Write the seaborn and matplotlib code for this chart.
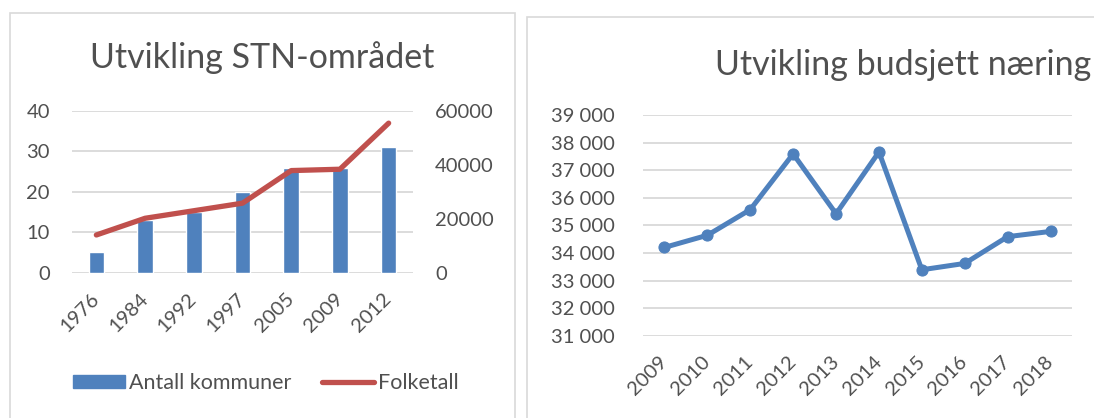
import numpy as np
import matplotlib
matplotlib.use('Agg')
import matplotlib.pyplot as plt
import seaborn as sns
from matplotlib.patches import Patch, Rectangle
from matplotlib.lines import Line2D

# left chart data
years_stn = ['1976', '1984', '1992', '1997', '2005', '2009', '2012']
antall_kommuner = [5, 13, 15, 20, 26, 26, 31]
folketall = [14000, 20200, 23000, 25800, 37900, 38400, 55500]

# right chart data
years_budsjett = [2009, 2010, 2011, 2012, 2013, 2014, 2015, 2016, 2017, 2018]
budsjett = [34200, 34640, 35570, 37590, 35420, 37660, 33390, 33620, 34590, 34780]

blue = '#4F81BD'
red = '#C0504D'
text_col = '#505050'
grid_col = '#D9D9D9'

sns.set_theme(style='white')
plt.rcParams['font.family'] = ['Lato', 'DejaVu Sans']
plt.rcParams['text.color'] = text_col
plt.rcParams['xtick.color'] = text_col
plt.rcParams['ytick.color'] = text_col

fig = plt.figure(figsize=(10.94, 4.18), dpi=100)

# panel frames
fig.patches.append(Rectangle((10 / 1094, -0.1), 505 / 1094, 1.1 - 13 / 418, transform=fig.transFigure,
                             fill=False, edgecolor=grid_col, linewidth=1.2, zorder=0))
fig.patches.append(Rectangle((527 / 1094, -0.1), 0.6, 1.1 - 17 / 418, transform=fig.transFigure,
                             fill=False, edgecolor=grid_col, linewidth=1.2, zorder=0))

# ---- left chart
ax = fig.add_axes([72 / 1094, 0.3476, 341 / 1094, 0.3868])
sns.barplot(x=years_stn, y=antall_kommuner, ax=ax, color=blue, width=0.32, saturation=1)
ax.set_ylim(0, 40)
ax.set_yticks([0, 10, 20, 30, 40])
ax.yaxis.grid(True, color=grid_col, linewidth=1.3)
ax.set_axisbelow(True)
ax2 = ax.twinx()
sns.pointplot(x=years_stn, y=folketall, ax=ax2, color=red, markers='', linewidth=3.8)
ax2.set_ylim(0, 60000)
ax2.set_yticks([0, 20000, 40000, 60000])
ax.set_xlim(-0.5, len(years_stn) - 0.5)
for a in (ax, ax2):
    sns.despine(ax=a, left=True, right=True, top=True, bottom=True)
    a.tick_params(length=0, labelsize=14.5)
    a.set_xlabel('')
    a.set_ylabel('')
ax.tick_params(axis='y', pad=16)
ax2.tick_params(axis='y', pad=16)
ax.tick_params(axis='x', pad=17)
plt.setp(ax.get_xticklabels(), rotation=45, ha='right', va='center', rotation_mode='anchor')

fig.text(262 / 1094, (418 - 68.3) / 418, 'Utvikling STN-området', ha='center', va='baseline',
         fontsize=24.5, color=text_col)

handles = [Patch(facecolor=blue, edgecolor=blue, label='Antall kommuner'),
           Line2D([0], [0], color=red, linewidth=3.8, label='Folketall')]
fig.legend(handles=handles, loc='center', bbox_to_anchor=(266 / 1094, (418 - 383) / 418), ncol=2,
           frameon=False, fontsize=15.5, handlelength=2.4, handleheight=0.6, handletextpad=0.2,
           columnspacing=1.4)

# ---- right chart
bx = fig.add_axes([643 / 1094, 0.1969, 429 / 1094, 0.528])
sns.lineplot(x=years_budsjett, y=budsjett, ax=bx, color=blue, linewidth=3.6, marker='o',
             markersize=8, markeredgecolor=blue)
bx.set_ylim(31000, 39000)
bx.set_yticks(np.arange(31000, 39001, 1000))
bx.set_yticklabels([f'{v:,}'.replace(',', ' ') for v in np.arange(31000, 39001, 1000)])
bx.set_xlim(years_budsjett[0] - 0.5, years_budsjett[-1] + 0.5)
bx.set_xticks(years_budsjett)
bx.yaxis.grid(True, color=grid_col, linewidth=1.3)
bx.set_axisbelow(True)
sns.despine(ax=bx, left=True, right=True, top=True, bottom=True)
bx.tick_params(length=0, labelsize=14.5)
bx.tick_params(axis='y', pad=20)
bx.tick_params(axis='x', pad=17)
plt.setp(bx.get_xticklabels(), rotation=45, ha='right', va='center', rotation_mode='anchor')

fig.text(715 / 1094, (418 - 75) / 418, 'Utvikling budsjett næring', ha='left', va='baseline',
         fontsize=24.5, color=text_col)

fig.savefig('out.png', dpi=100)
